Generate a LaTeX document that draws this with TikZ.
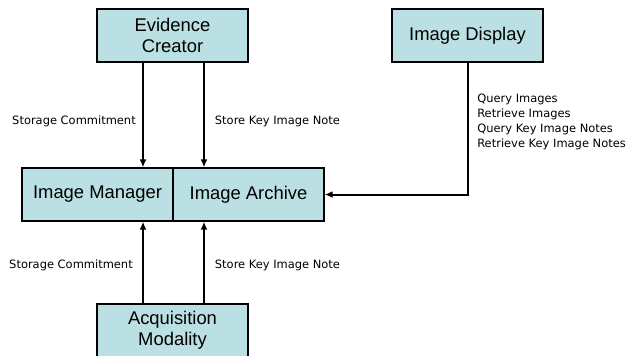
\documentclass[tikz,border=0pt]{standalone}
\usepackage{fontspec}
\setmainfont{Liberation Sans}
\newfontfamily\lblfont{DejaVu Sans}
\usetikzlibrary{arrows.meta}
\definecolor{boxfill}{RGB}{187,224,227}
\begin{document}
\begin{tikzpicture}[x=0.75pt,y=-0.75pt,
  box/.style={draw=black,line width=0.8pt,fill=boxfill,minimum width=113.25pt,minimum height=39.75pt,inner sep=0pt,align=center,font=\fontsize{13.8}{16}\selectfont},
  arr/.style={line width=1.5pt,-{Latex[length=6pt,width=5pt]}},
  lbl/.style={font=\lblfont\fontsize{8.6}{11.25}\selectfont,inner sep=0pt,align=left}]
\useasboundingbox (0,0) rectangle (634,355);
\node[box] (ec) at (172.5,35.5) {Evidence\\Creator};
\node[box] (id) at (467.5,35.5) {Image Display};
\node[box] (im) at (97.5,194.5) {Image Manager};
\node[box] (ia) at (248.5,194.5) {Image Archive};
\node[box] (am) at (172.5,330.5) {Acquisition\\Modality};
\coordinate (xl) at (143,0);
\coordinate (xr) at (204,0);
\draw[arr] (ec.south -| xl) -- (im.north -| xl);
\draw[arr] (ec.south -| xr) -- (ia.north -| xr);
\draw[arr] (am.north -| xl) -- (im.south -| xl);
\draw[arr] (am.north -| xr) -- (ia.south -| xr);
\draw[arr] (id.south) |- (ia.east);
\node[lbl] (l1) at (74,121) {Storage Commitment};
\node[lbl] (l2) at (277.5,121) {Store Key Image Note};
\node[lbl] (l3) at (71,265) {Storage Commitment};
\node[lbl] (l4) at (277.5,265) {Store Key Image Note};
\node[lbl,anchor=north west] (l5) at (477,94) {Query Images\\Retrieve Images\\Query Key Image Notes\\Retrieve Key Image Notes};
\end{tikzpicture}
\end{document}
